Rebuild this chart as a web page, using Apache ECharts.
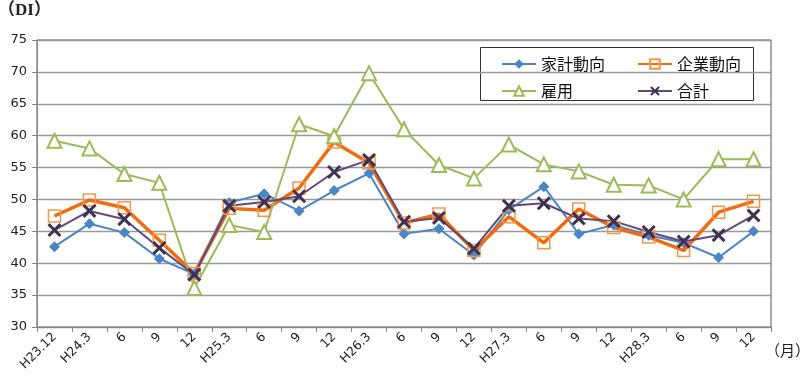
<!DOCTYPE html>
<html><head><meta charset="utf-8">
<script src="https://cdn.jsdelivr.net/npm/echarts@6/dist/echarts.min.js"></script>
<style>html,body{margin:0;padding:0;background:#fff}#c{width:800px;height:387px}</style>
</head><body><div id="c"></div>
<script>
var categories = ['H23.12','H24.3','6','9','12','H25.3','6','9','12','H26.3','6','9','12','H27.3','6','9','12','H28.3','6','9','12'];
var household = [42.6,46.2,44.8,40.7,38.3,49.5,50.9,48.2,51.4,54.1,44.6,45.4,41.3,48.4,52.0,44.6,46.0,44.4,43.2,40.9,45.0];
var corporate = [47.4,49.9,48.7,43.6,38.4,48.6,48.3,51.8,59.0,55.7,46.3,47.7,42.0,47.3,43.2,48.5,45.6,44.1,42.0,48.0,49.7];
var employment = [59.2,58.0,54.0,52.6,36.1,46.0,44.9,61.8,59.9,69.8,61.0,55.4,53.3,58.6,55.5,54.4,52.3,52.2,50.0,56.3,56.3];
var total = [45.2,48.2,46.9,42.4,38.2,49.0,49.6,50.5,54.3,56.2,46.5,47.1,42.3,49.0,49.4,47.0,46.6,44.9,43.4,44.4,47.5];
var yTicks = {min:30, max:75, interval:5};

var FONT = "'DejaVu Sans', 'Noto Sans CJK JP', sans-serif";
var JFONT = "'Noto Sans CJK JP', sans-serif";
var xPath = 'path://M0,1.5 L1.5,0 L5,3.5 L8.5,0 L10,1.5 L6.5,5 L10,8.5 L8.5,10 L5,6.5 L1.5,10 L0,8.5 L3.5,5 Z';

var chart = echarts.init(document.getElementById('c'), null, {renderer:'canvas'});
chart.setOption({
  animation:false,
  backgroundColor:'#fff',
  grid:{left:37, right:29, top:40, bottom:60, show:true, borderColor:'#555', borderWidth:1},
  legend:[
    {orient:'vertical', left:496, top:51, itemWidth:34, itemHeight:12, itemGap:11,
     textStyle:{fontFamily:JFONT, fontSize:16, color:'#111'}, data:['家計動向','雇用']},
    {orient:'vertical', left:632, top:51, itemWidth:34, itemHeight:12, itemGap:11,
     textStyle:{fontFamily:JFONT, fontSize:16, color:'#111'}, data:['企業動向','合計']}
  ],
  graphic:[
    {type:'rect', shape:{x:480.5, y:47.5, width:273, height:53}, style:{fill:'none', stroke:'#333', lineWidth:1}, z:-1},
    {type:'text', left:-2, top:2, style:{text:'（DI）', font:"bold 17px 'Liberation Serif', 'Noto Sans CJK JP', serif", fill:'#222'}},
    {type:'text', left:765, top:343, style:{text:'（月）', font:"15px 'Noto Sans CJK JP', sans-serif", fill:'#222'}}
  ],
  xAxis:{type:'category', data:categories, boundaryGap:true,
    axisLine:{lineStyle:{color:'#888'}},
    axisTick:{show:true, interval:0, length:5, lineStyle:{color:'#888'}},
    axisLabel:{interval:0, rotate:45, fontFamily:FONT, fontSize:12.5, color:'#222', margin:8}
  },
  yAxis:{type:'value', min:yTicks.min, max:yTicks.max, interval:yTicks.interval,
    axisLine:{show:true, lineStyle:{color:'#888'}},
    axisTick:{show:true, length:5, lineStyle:{color:'#888'}},
    axisLabel:{fontFamily:FONT, fontSize:13, color:'#222', margin:10},
    splitLine:{lineStyle:{color:'#9a9a9a', width:1.3}}
  },
  series:[
    {name:'家計動向', type:'line', data:household, symbol:'diamond', symbolSize:11,
     lineStyle:{color:'#4a86c5', width:2}, itemStyle:{color:'#4a86c5'}},
    {name:'企業動向', type:'line', data:corporate, symbol:'rect', symbolSize:12,
     lineStyle:{color:'#f26c0d', width:3.5}, itemStyle:{color:'rgba(255,255,255,0)', borderColor:'#f79646', borderWidth:1.5}},
    {name:'雇用', type:'line', data:employment, symbol:'triangle', symbolSize:14,
     lineStyle:{color:'#9bbb59', width:2}, itemStyle:{color:'#fff', borderColor:'#9bbb59', borderWidth:2}},
    {name:'合計', type:'line', data:total, symbol:xPath, symbolSize:14,
     lineStyle:{color:'#604a7b', width:2}, itemStyle:{color:'#3f3151'}}
  ]
});
</script></body></html>
